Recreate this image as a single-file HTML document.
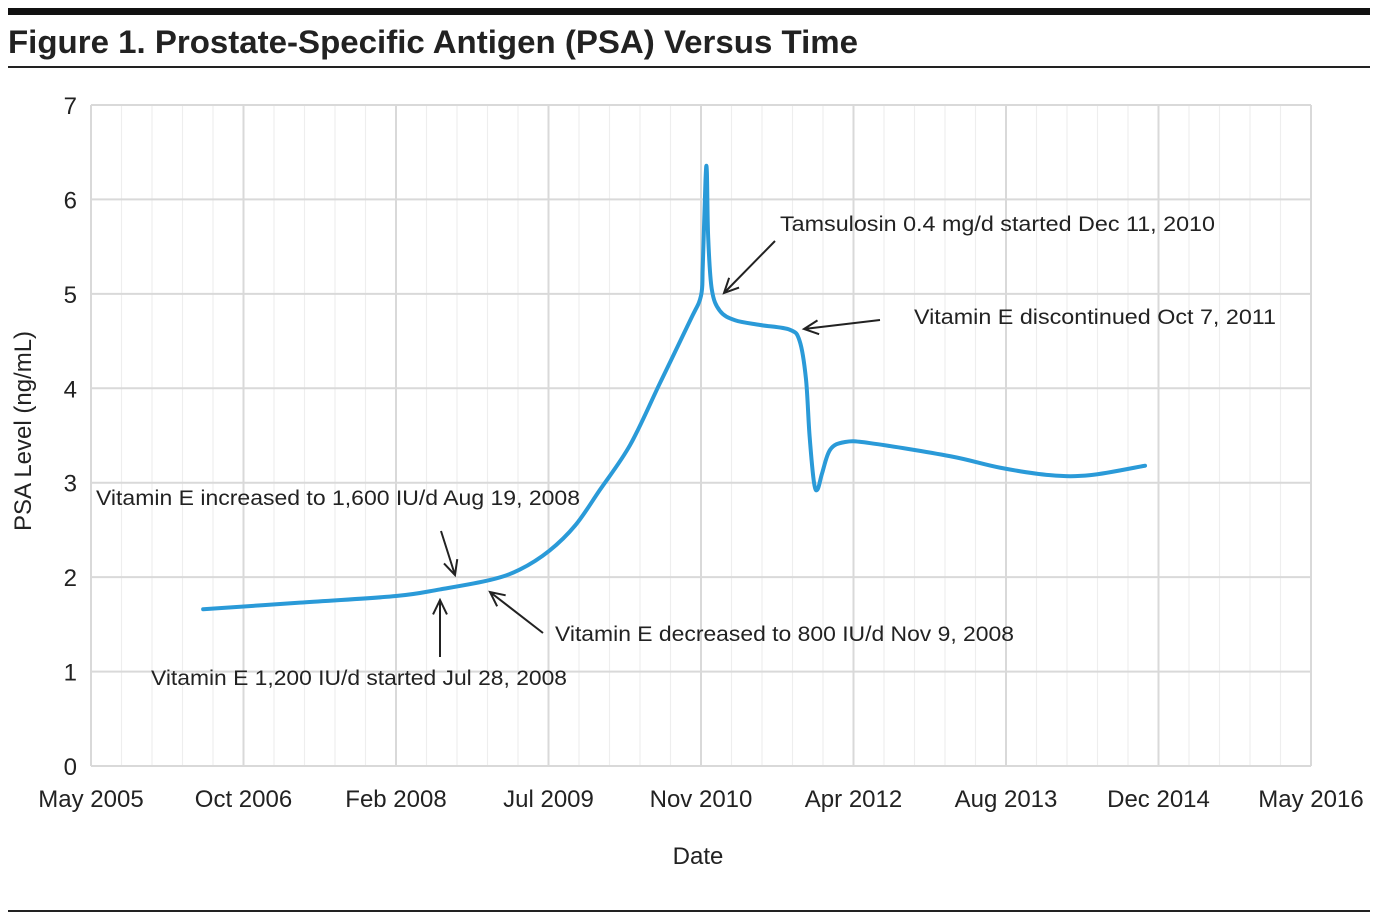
<!DOCTYPE html>
<html><head><meta charset="utf-8"><style>
html,body{margin:0;padding:0;background:#fff;}
svg{display:block;font-family:"Liberation Sans",sans-serif;}
</style></head><body>
<svg id="chart" width="1377" height="917" viewBox="0 0 1377 917" xmlns="http://www.w3.org/2000/svg">
<rect x="8" y="8" width="1362" height="7" fill="#111"/>
<text x="8" y="53" font-size="32" font-weight="bold" fill="#222" textLength="850" lengthAdjust="spacingAndGlyphs">Figure 1. Prostate-Specific Antigen (PSA) Versus Time</text>
<rect x="8" y="66" width="1362" height="2" fill="#222"/>
<rect x="8" y="910" width="1362" height="2" fill="#222"/>
<g id="grid"></g>
<g id="axes"></g>
<path id="line" fill="none" stroke="#2a9ad8" stroke-width="4" stroke-linejoin="round" stroke-linecap="round"/>
<g id="notes" font-size="21" fill="#222"></g>
<text x="698" y="864" font-size="24" text-anchor="middle" fill="#222">Date</text>
<text transform="translate(31,431) rotate(-90)" font-size="24" text-anchor="middle" fill="#222">PSA Level (ng/mL)</text>
</svg>
<script>
const xTickLabels = ["May 2005","Oct 2006","Feb 2008","Jul 2009","Nov 2010","Apr 2012","Aug 2013","Dec 2014","May 2016"];
const yTickLabels = ["0","1","2","3","4","5","6","7"];
const months = [12.5,23.3,34.0,38.9,44.5,47.8,51.1,54.0,56.7,60.1,63.4,66.8,68.0,68.2,68.5,68.65,68.8,69.2,70.1,71.8,74.6,77.9,79.0,79.7,80.1,80.6,81.0,81.5,82.4,84.0,86.8,95.8,101.3,106.9,111.4,117.5];
const psa = [1.66,1.73,1.80,1.87,1.97,2.08,2.28,2.55,2.92,3.4,4.05,4.72,4.98,5.3,6.2,6.3,5.6,5.05,4.82,4.72,4.67,4.62,4.5,4.1,3.5,3.0,2.93,3.1,3.35,3.43,3.42,3.28,3.16,3.08,3.08,3.18];
const xMax = 136, yMax = 7;
const L=91,R=1311,T=105,B=766;
const xs = m => L + m/xMax*(R-L);
const ys = v => B - v/yMax*(B-T);
const NS="http://www.w3.org/2000/svg";
function mk(tag,attrs,parent){const e=document.createElementNS(NS,tag);for(const k in attrs)e.setAttribute(k,attrs[k]);parent.appendChild(e);return e;}
const grid=document.getElementById('grid'), axes=document.getElementById('axes');
const xStep = xMax/(xTickLabels.length-1);
for(let i=0;i<(xTickLabels.length-1)*5;i++){
  if(i%5===0) continue;
  const x=xs(i*xStep/5);
  const l=mk('line',{x1:x,x2:x,y1:T,y2:B,stroke:'#eeeeee','stroke-width':1.2},grid);
  
  
}
xTickLabels.forEach((lab,i)=>{
  const x=xs(i*xStep);
  const l=mk('line',{x1:x,x2:x,y1:T,y2:B,stroke:'#d9d9d9','stroke-width':2},grid);
  
  
  const t=mk('text',{x:x,y:807,'font-size':24,'text-anchor':'middle',fill:'#222'},axes);
  t.textContent=lab;
  
  
});
yTickLabels.forEach((lab,i)=>{
  const y=ys(+lab);
  const l=mk('line',{x1:L,x2:R,y1:y,y2:y,stroke:'#d9d9d9','stroke-width':2},grid);
  
  
  const t=mk('text',{x:77,y:y+9,'font-size':24,'text-anchor':'end',fill:'#222'},axes);
  t.textContent=lab;
  
  
});
const P=months.map((m,i)=>[xs(m),ys(psa[i])]);
let d='M'+P[0][0]+','+P[0][1];
for(let i=0;i<P.length-1;i++){
  const p0=P[Math.max(0,i-1)],p1=P[i],p2=P[i+1],p3=P[Math.min(P.length-1,i+2)];
  const k=1/6;
  d+=' C'+(p1[0]+(p2[0]-p0[0])*k)+','+(p1[1]+(p2[1]-p0[1])*k)+' '+(p2[0]-(p3[0]-p1[0])*k)+','+(p2[1]-(p3[1]-p1[1])*k)+' '+p2[0]+','+p2[1];
}
document.getElementById('line').setAttribute('d',d);
const notes=document.getElementById('notes');
const ann=[
 {t:"Vitamin E increased to 1,600 IU/d Aug 19, 2008",x:96,y:505,w:484,a:[441,531,455,575]},
 {t:"Vitamin E 1,200 IU/d started Jul 28, 2008",x:151,y:685,w:416,a:[440,657,440,600]},
 {t:"Vitamin E decreased to 800 IU/d Nov 9, 2008",x:555,y:641,w:459,a:[543,633,490,592]},
 {t:"Tamsulosin 0.4 mg/d started Dec 11, 2010",x:780,y:231,w:435,a:[775,241,724,293]},
 {t:"Vitamin E discontinued Oct 7, 2011",x:914,y:324,w:362,a:[880,320,804,329]}
];
ann.forEach(n=>{
  const t=mk('text',{x:n.x,y:n.y,textLength:n.w,lengthAdjust:'spacingAndGlyphs'},notes);
  t.textContent=n.t;
  
  
  const [x1,y1,x2,y2]=n.a;
  const ang=Math.atan2(y2-y1,x2-x1),h=16,s=0.45;
  const g=mk('path',{d:`M${x1},${y1} L${x2},${y2} M${x2-h*Math.cos(ang-s)},${y2-h*Math.sin(ang-s)} L${x2},${y2} L${x2-h*Math.cos(ang+s)},${y2-h*Math.sin(ang+s)}`,stroke:'#222','stroke-width':2,fill:'none'},notes);
  
  
});
</script>
</body></html>
